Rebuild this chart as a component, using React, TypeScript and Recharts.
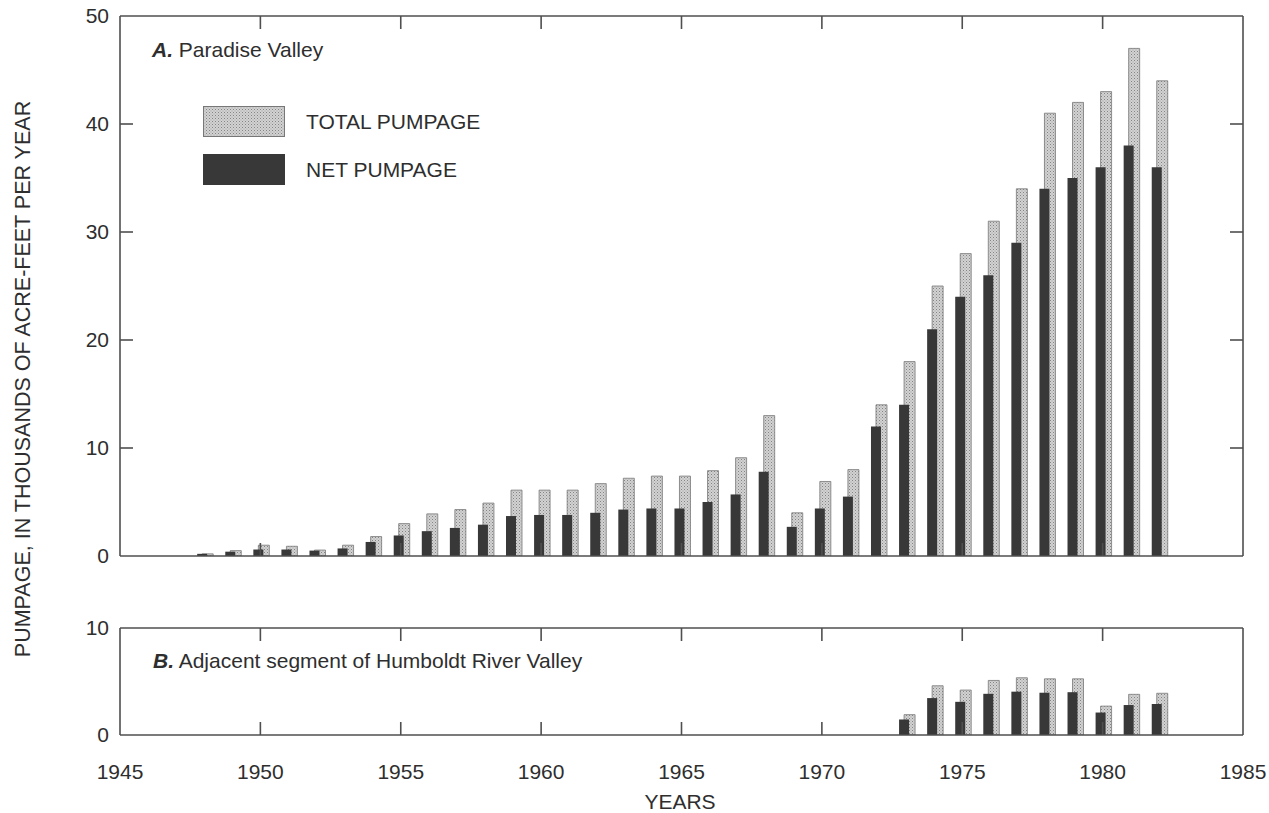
import { Bar, BarChart, Legend, XAxis, YAxis } from "recharts";

// Panel A: Paradise Valley (thousands of acre-feet per year)
const YEARS_A = [
  1948, 1949, 1950, 1951, 1952, 1953, 1954, 1955, 1956, 1957, 1958, 1959,
  1960, 1961, 1962, 1963, 1964, 1965, 1966, 1967, 1968, 1969, 1970, 1971,
  1972, 1973, 1974, 1975, 1976, 1977, 1978, 1979, 1980, 1981, 1982,
];
const TOTAL_A = [
  0.2, 0.5, 1.0, 0.9, 0.55, 1.0, 1.8, 3.0, 3.9, 4.3, 4.9, 6.1,
  6.1, 6.1, 6.7, 7.2, 7.4, 7.4, 7.9, 9.1, 13.0, 4.0, 6.9, 8.0,
  14, 18, 25, 28, 31, 34, 41, 42, 43, 47, 44,
];
const NET_A = [
  0.2, 0.4, 0.6, 0.6, 0.5, 0.7, 1.3, 1.9, 2.3, 2.6, 2.9, 3.7,
  3.8, 3.8, 4.0, 4.3, 4.4, 4.4, 5.0, 5.7, 7.8, 2.7, 4.4, 5.5,
  12, 14, 21, 24, 26, 29, 34, 35, 36, 38, 36,
];

// Panel B: adjacent segment of Humboldt River Valley
const YEARS_B = [1973, 1974, 1975, 1976, 1977, 1978, 1979, 1980, 1981, 1982];
const TOTAL_B = [1.9, 4.6, 4.2, 5.1, 5.35, 5.25, 5.25, 2.7, 3.8, 3.9];
const NET_B = [1.45, 3.45, 3.1, 3.85, 4.05, 3.95, 4.0, 2.1, 2.8, 2.9];

const X_TICKS = [1945, 1950, 1955, 1960, 1965, 1970, 1975, 1980, 1985];
const X_INNER_TICKS = [1950, 1955, 1960, 1965, 1970, 1975, 1980];
const Y_TICKS_A = [0, 10, 20, 30, 40, 50];
const Y_INNER_TICKS_A = [10, 20, 30, 40];
const Y_TICKS_B = [0, 10];

const TOTAL_LABEL = "TOTAL PUMPAGE";
const NET_LABEL = "NET PUMPAGE";
const LEGEND_ORDER = [TOTAL_LABEL, NET_LABEL];

const FONT = '"Liberation Sans", Arial, Helvetica, sans-serif';
const INK = "#2e2e2e";
const FRAME = "#4f4f4f";
const NET_FILL = "#383838";
const TOTAL_STROKE = "#777777";

const dataA = YEARS_A.map((year, i) => ({ year, total: TOTAL_A[i], net: NET_A[i] }));
const dataB = YEARS_B.map((year, i) => ({ year, total: TOTAL_B[i], net: NET_B[i] }));

const line = { stroke: FRAME, strokeWidth: 1.6 };
const tickText = { fill: INK, fontSize: 21, fontFamily: FONT };

// tick marks only, no labels
const NoLabel = () => <g />;

function Stipple() {
  return (
    <svg width={0} height={0} style={{ position: "absolute" }}>
      <defs>
        <pattern id="stipple" width={3} height={3} patternUnits="userSpaceOnUse">
          <rect width={3} height={3} fill="#d2d2d2" />
          <rect x={0} y={0} width={1} height={1} fill="#848484" />
          <rect x={1.5} y={1.5} width={1} height={1} fill="#a0a0a0" />
        </pattern>
      </defs>
    </svg>
  );
}

function PumpageLegend({ payload }: any) {
  const items = [...(payload ?? [])].sort(
    (a: any, b: any) => LEGEND_ORDER.indexOf(a.value) - LEGEND_ORDER.indexOf(b.value)
  );
  return (
    <div style={{ fontFamily: FONT }}>
      {items.map((p: any) => {
        const isTotal = p.value === TOTAL_LABEL;
        return (
          <div
            key={p.value}
            style={{ display: "flex", alignItems: "center", height: 31, marginBottom: 17 }}
          >
            <svg width={82} height={31}>
              <rect
                x={0.5}
                y={0.5}
                width={81}
                height={30}
                fill={isTotal ? "url(#stipple)" : NET_FILL}
                stroke={isTotal ? TOTAL_STROKE : NET_FILL}
              />
            </svg>
            <span style={{ marginLeft: 21, fontSize: 21, color: INK }}>{p.value}</span>
          </div>
        );
      })}
    </div>
  );
}

// frame + inward ticks shared by both panels
function frameAxes(yDomain: number[], yInner: number[]) {
  const hasY = yInner.length > 0;
  return [
    <XAxis
      key="xt"
      xAxisId="xt"
      dataKey="year"
      type="number"
      orientation="top"
      mirror
      domain={[1945, 1985]}
      ticks={X_INNER_TICKS}
      allowDataOverflow
      tick={NoLabel}
      tickSize={13}
      tickLine={line}
      axisLine={line}
    />,
    <XAxis
      key="xb"
      xAxisId="xb"
      dataKey="year"
      type="number"
      orientation="bottom"
      mirror
      domain={[1945, 1985]}
      ticks={X_INNER_TICKS}
      allowDataOverflow
      tick={NoLabel}
      tickSize={13}
      tickLine={line}
      axisLine={line}
    />,
    <YAxis
      key="yl"
      yAxisId="yl"
      type="number"
      orientation="left"
      mirror
      domain={yDomain}
      ticks={hasY ? yInner : yDomain}
      allowDataOverflow
      tick={NoLabel}
      tickSize={13}
      tickLine={hasY ? line : false}
      axisLine={line}
    />,
    <YAxis
      key="yr"
      yAxisId="yr"
      type="number"
      orientation="right"
      mirror
      domain={yDomain}
      ticks={hasY ? yInner : yDomain}
      allowDataOverflow
      tick={NoLabel}
      tickSize={13}
      tickLine={hasY ? line : false}
      axisLine={line}
    />,
  ];
}

function PanelA() {
  return (
    <BarChart
      width={1269}
      height={580}
      data={dataA}
      margin={{ top: 16, right: 26, bottom: 24, left: 60 }}
      barGap={-16}
    >
      {frameAxes([0, 50], Y_INNER_TICKS_A)}
      <YAxis
        yAxisId="y"
        type="number"
        domain={[0, 50]}
        ticks={Y_TICKS_A}
        width={60}
        axisLine={false}
        tickLine={false}
        tickSize={0}
        tickMargin={11}
        tick={tickText}
        allowDataOverflow
      />
      <Legend
        layout="vertical"
        align="center"
        verticalAlign="middle"
        content={PumpageLegend}
        wrapperStyle={{ left: 203, top: 106, width: 340 }}
      />
      <Bar
        xAxisId="xb"
        yAxisId="y"
        dataKey="total"
        name={TOTAL_LABEL}
        barSize={11}
        fill="url(#stipple)"
        stroke={TOTAL_STROKE}
        strokeWidth={0.8}
        isAnimationActive={false}
      />
      <Bar
        xAxisId="xb"
        yAxisId="y"
        dataKey="net"
        name={NET_LABEL}
        barSize={10}
        fill={NET_FILL}
        isAnimationActive={false}
      />
    </BarChart>
  );
}

function PanelB() {
  return (
    <BarChart
      width={1269}
      height={233}
      data={dataB}
      margin={{ top: 48, right: 26, bottom: 0, left: 60 }}
      barGap={-16}
    >
      {frameAxes([0, 10], [])}
      <XAxis
        xAxisId="x"
        dataKey="year"
        type="number"
        domain={[1945, 1985]}
        ticks={X_TICKS}
        allowDataOverflow
        height={78}
        axisLine={false}
        tickLine={false}
        tickSize={0}
        tickMargin={29}
        tick={tickText}
      />
      <YAxis
        yAxisId="y"
        type="number"
        domain={[0, 10]}
        ticks={Y_TICKS_B}
        width={60}
        axisLine={false}
        tickLine={false}
        tickSize={0}
        tickMargin={11}
        tick={tickText}
        allowDataOverflow
      />
      <Bar
        xAxisId="x"
        yAxisId="y"
        dataKey="total"
        name={TOTAL_LABEL}
        barSize={11}
        fill="url(#stipple)"
        stroke={TOTAL_STROKE}
        strokeWidth={0.8}
        isAnimationActive={false}
      />
      <Bar
        xAxisId="x"
        yAxisId="y"
        dataKey="net"
        name={NET_LABEL}
        barSize={10}
        fill={NET_FILL}
        isAnimationActive={false}
      />
    </BarChart>
  );
}

export default function App() {
  const text = {
    position: "absolute" as const,
    fontFamily: FONT,
    color: INK,
    fontSize: 21,
    lineHeight: "22px",
    whiteSpace: "nowrap" as const,
  };
  return (
    <div style={{ position: "absolute", left: 0, top: 0, width: 1269, height: 813, background: "#fff", overflow: "hidden" }}>
      <Stipple />
      <div style={{ position: "absolute", left: 0, top: 0 }}>
        <PanelA />
      </div>
      <div style={{ position: "absolute", left: 0, top: 580 }}>
        <PanelB />
      </div>
      <div style={{ ...text, left: 152, top: 39 }}>
        <b><i>A.</i></b> Paradise Valley
      </div>
      <div style={{ ...text, left: 153, top: 650 }}>
        <b><i>B.</i></b> Adjacent segment of Humboldt River Valley
      </div>
      <div style={{ ...text, left: 580, width: 200, top: 792, lineHeight: "20px", textAlign: "center" }}>
        YEARS
      </div>
      <div
        style={{
          ...text,
          fontSize: 21.5,
          left: 23,
          top: 379,
          transform: "translate(-50%, -50%) rotate(-90deg)",
        }}
      >
        PUMPAGE, IN THOUSANDS OF ACRE-FEET PER YEAR
      </div>
    </div>
  );
}
